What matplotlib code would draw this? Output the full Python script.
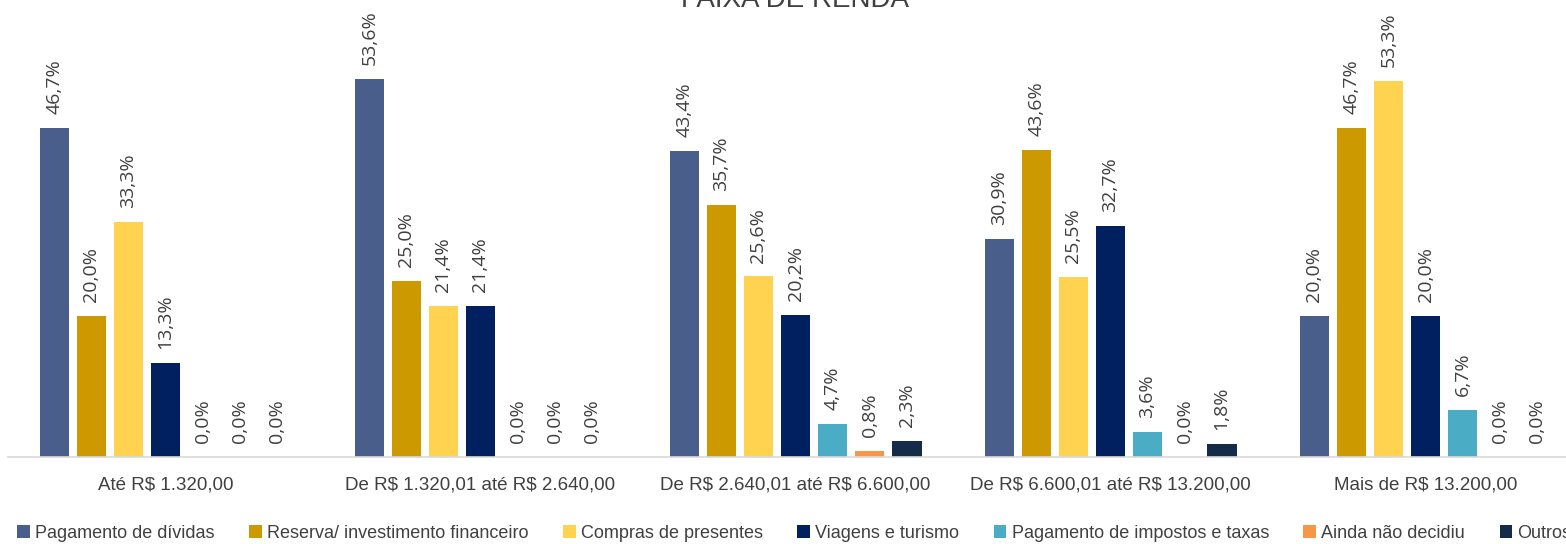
import numpy as np
import matplotlib.pyplot as plt

# data
faixas = ['Até R\\$ 1.320,00', 'De R\\$ 1.320,01 até R\\$ 2.640,00', 'De R\\$ 2.640,01 até R\\$ 6.600,00',
          'De R\\$ 6.600,01 até R\\$ 13.200,00', 'Mais de R\\$ 13.200,00']
series = ['Pagamento de dívidas', 'Reserva/ investimento financeiro', 'Compras de presentes',
          'Viagens e turismo', 'Pagamento de impostos e taxas', 'Ainda não decidiu', 'Outros']
pagamento_dividas = [46.7, 53.6, 43.4, 30.9, 20.0]
reserva = [20.0, 25.0, 35.7, 43.6, 46.7]
compras_presentes = [33.3, 21.4, 25.6, 25.5, 53.3]
viagens = [13.3, 21.4, 20.2, 32.7, 20.0]
impostos = [0.0, 0.0, 4.7, 3.6, 6.7]
nao_decidiu = [0.0, 0.0, 0.8, 0.0, 0.0]
outros = [0.0, 0.0, 2.3, 1.8, 0.0]
colors = ['#4A5E8C', '#CC9900', '#FFD34F', '#002060', '#4BACC6', '#F79646', '#142B4A']

values = [pagamento_dividas, reserva, compras_presentes, viagens, impostos, nao_decidiu, outros]

plt.rcParams['font.family'] = ['Liberation Sans', 'DejaVu Sans']

fig = plt.figure(figsize=(15.66, 5.44), dpi=100)
# axes deliberately runs past the right edge like the cropped original
ax = fig.add_axes([8 / 1566, (544 - 457) / 544, 1575 / 1566, 457 / 544])

x = np.arange(len(faixas))
slot = 0.1175
width = 0.095
for i, (name, vals) in enumerate(zip(series, values)):
    pos = x + (i - 3) * slot
    ax.bar(pos, vals, width, color=colors[i], label=name, zorder=2)
    for p, v in zip(pos, vals):
        ax.annotate(f'{v:.1f}'.replace('.', ',') + '%', (p, v), xytext=(0, 10),
                    textcoords='offset points', rotation=90, ha='center', va='bottom',
                    fontsize=14, color='#404040', family=['Open Sans', 'DejaVu Sans'])

ax.set_xlim(-0.5, 4.5)
ax.set_ylim(0, 64.8)
ax.set_yticks([])
ax.set_xticks(x)
ax.set_xticklabels(faixas, fontsize=13.5, color='#404040')
ax.tick_params(axis='x', length=0, pad=14)
for s in ['top', 'right', 'left']:
    ax.spines[s].set_visible(False)
ax.spines['bottom'].set_color('#D9D9D9')
ax.spines['bottom'].set_linewidth(1.2)

fig.text(795 / 1566, 1.0, 'FAIXA DE RENDA', ha='center', va='center', fontsize=20, color='#404040')

fig.legend(loc='center left', bbox_to_anchor=(10 / 1566, 11 / 544), ncol=7, frameon=False,
           fontsize=13, handlelength=0.7, handleheight=0.7, handletextpad=0.3,
           columnspacing=1.9, labelcolor='#404040', borderaxespad=0)

fig.savefig('out.png', dpi=100)
